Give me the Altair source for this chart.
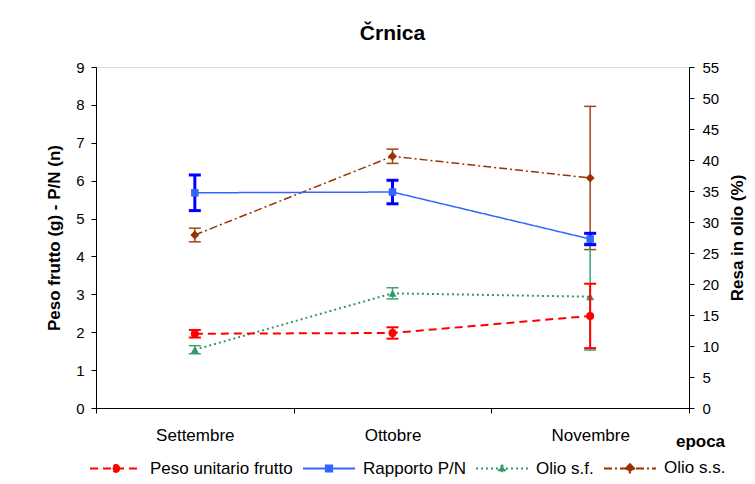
import altair as alt
import pandas as pd

# ---- data ----
mesi = ["Settembre", "Ottobre", "Novembre"]
serie = ["Peso unitario frutto", "Rapporto P/N", "Olio s.f.", "Olio s.s."]
asse = ["sx", "sx", "dx", "dx"]

peso = [1.96, 1.98, 2.43]
peso_err = [0.10, 0.15, 0.85]
rapporto = [5.68, 5.70, 4.46]
rapporto_err = [0.47, 0.31, 0.15]
olio_sf = [9.4, 18.5, 17.95]
olio_sf_err = [0.65, 0.9, 8.6]
olio_ss = [27.9, 40.6, 37.1]
olio_ss_err = [1.1, 1.15, 11.55]

valori = [peso, rapporto, olio_sf, olio_ss]
errori = [peso_err, rapporto_err, olio_sf_err, olio_ss_err]

rows = []
for s, vals, errs, a in zip(serie, valori, errori, asse):
    for m, v, e in zip(mesi, vals, errs):
        rows.append({"mese": m, "serie": s, "valore": v, "lo": v - e, "hi": v + e, "asse": a})
df = pd.DataFrame(rows)

# ---- styles ----
line_colors = ["#FF0000", "#3366FF", "#339966", "#993300"]
err_colors = ["#FF0000", "#0000FF", "#3FA07A", "#A0461A"]
dashes = [[8, 5], [1, 0], [2, 3], [8, 3, 2, 3]]
line_widths = [2, 1.5, 2, 1.5]
err_widths = [2, 3, 1.5, 1.5]
shapes = ["circle", "square", "triangle-up", "diamond"]
marker_sizes = [64, 56, 64, 80]

FONT = "Liberation Sans"

legend_paths = [
    "M-1,0L1,0M0.13,0A0.13,0.13 0 1,1 -0.13,0A0.13,0.13 0 1,1 0.13,0Z",
    "M-1,0L1,0M-0.12,-0.12L0.12,-0.12L0.12,0.12L-0.12,0.12Z",
    "M-1,0L1,0M0,-0.14L0.14,0.11L-0.14,0.11Z",
    "M-1,0L1,0M0,-0.16L0.16,0L0,0.16L-0.16,0Z",
]

leg = alt.Legend(
    orient="none", legendX=-7, legendY=374, direction="horizontal", columns=4,
    title=None, symbolSize=2704, symbolStrokeWidth=2, symbolOpacity=1, labelFontSize=17,
    labelFont=FONT, labelColor="#000", labelOffset=7, columnPadding=6,
)

x_enc = alt.X(
    "mese:N", sort=mesi,
    scale=alt.Scale(type="band", domain=mesi, paddingInner=0, paddingOuter=0),
    axis=alt.Axis(
        title="epoca", labelAngle=0, labelFontSize=17, labelFont=FONT, labelColor="#000",
        labelPadding=14, tickBand="extent", tickSize=5, tickColor="#000",
        domainColor="#000", titleFontSize=17, titleFont=FONT, titleFontWeight="bold",
        titleColor="#000", titleAlign="center", titleBaseline="middle",
        titleX=604, titleY=33, titleAnchor="start",
    ),
)

axes = {
    "sx": dict(
        scale=alt.Scale(domain=[0, 9], nice=False, zero=True),
        axis=alt.Axis(
            orient="left", values=list(range(10)), title="Peso frutto (g) - P/N (n)",
            grid=False, tickSize=5, labelPadding=7, titlePadding=12,
            labelFontSize=15, labelFont=FONT, labelColor="#000",
            titleFontSize=17, titleFont=FONT, titleFontWeight="bold", titleColor="#000",
            domainColor="#000", tickColor="#000",
        ),
    ),
    "dx": dict(
        scale=alt.Scale(domain=[0, 55], nice=False, zero=True),
        axis=alt.Axis(
            orient="right", values=list(range(0, 60, 5)), title="Resa in olio (%)",
            grid=False, tickSize=5, labelPadding=8, titlePadding=11, titleAngle=270,
            titleBaseline="top",
            labelFontSize=15, labelFont=FONT, labelColor="#000",
            titleFontSize=17, titleFont=FONT, titleFontWeight="bold", titleColor="#000",
            domainColor="#000", tickColor="#000",
        ),
    ),
}

base = alt.Chart(df)


def group(which, order, with_legend=False):
    ax = axes[which]
    layers = []
    for i in order:
        s = serie[i]
        sub = base.transform_filter(alt.datum.serie == s)
        layers.append(
            sub.mark_rule(color=err_colors[i], strokeWidth=err_widths[i]).encode(
                x=x_enc, y=alt.Y("lo:Q", **ax), y2="hi:Q"
            )
        )
        for f in ["lo", "hi"]:
            layers.append(
                sub.mark_tick(color=err_colors[i], thickness=err_widths[i], size=12,
                              orient="horizontal", opacity=1).encode(
                    x=x_enc, y=alt.Y(f"{f}:Q", **ax)
                )
            )
        layers.append(
            sub.mark_line(strokeWidth=line_widths[i], color=line_colors[i],
                          strokeDash=dashes[i]).encode(
                x=x_enc, y=alt.Y("valore:Q", **ax)
            )
        )
        layers.append(
            sub.mark_point(filled=True, opacity=1, shape=shapes[i], size=marker_sizes[i],
                           color=line_colors[i]).encode(
                x=x_enc, y=alt.Y("valore:Q", **ax)
            )
        )
    if with_legend:
        src = base.transform_filter(alt.datum.asse == which)
        layers.append(
            src.mark_point(opacity=0, strokeWidth=2).encode(
                x=x_enc, y=alt.Y("valore:Q", **ax),
                stroke=alt.Stroke("serie:N", scale=alt.Scale(domain=serie, range=line_colors), legend=leg),
                fill=alt.Fill("serie:N", scale=alt.Scale(domain=serie, range=line_colors), legend=leg),
                strokeDash=alt.StrokeDash("serie:N", scale=alt.Scale(domain=serie, range=dashes), legend=leg),
                shape=alt.Shape("serie:N", scale=alt.Scale(domain=serie, range=legend_paths), legend=leg),
            )
        )
    return alt.layer(*layers)


chart = alt.layer(group("dx", [3, 2]), group("sx", [0, 1], True)).resolve_scale(y="independent").properties(
    width=593, height=341,
    title=alt.TitleParams("Črnica", fontSize=21, font=FONT, fontWeight="bold", color="#000", offset=16),
    autosize=alt.AutoSizeParams(type="none"),
    padding={"left": 88, "top": 59, "right": 58, "bottom": 76},
).configure_view(stroke="#808080", strokeWidth=1).configure(font=FONT, background="white")

chart.save("out.html", embed_options={"renderer": "svg", "actions": False})
